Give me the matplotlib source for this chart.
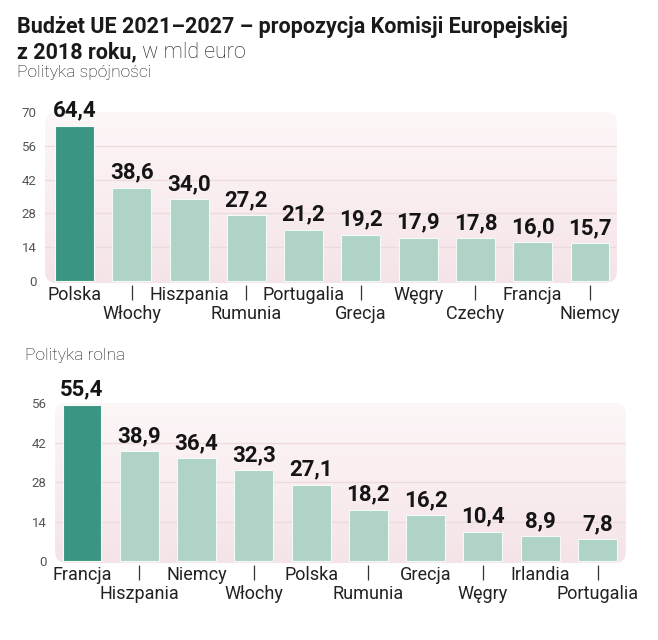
import numpy as np
import matplotlib
matplotlib.use('Agg')
import matplotlib.pyplot as plt
from matplotlib.patches import FancyBboxPatch

# ── Data ──
coh_countries = ["Polska", "Włochy", "Hiszpania", "Rumunia", "Portugalia",
                 "Grecja", "Węgry", "Czechy", "Francja", "Niemcy"]
coh_values = [64.4, 38.6, 34.0, 27.2, 21.2, 19.2, 17.9, 17.8, 16.0, 15.7]
coh_ticks = [0, 14, 28, 42, 56, 70]

agr_countries = ["Francja", "Hiszpania", "Niemcy", "Włochy", "Polska",
                 "Rumunia", "Grecja", "Węgry", "Irlandia", "Portugalia"]
agr_values = [55.4, 38.9, 36.4, 32.3, 27.1, 18.2, 16.2, 10.4, 8.9, 7.8]
agr_ticks = [0, 14, 28, 42, 56]

title1 = "Budżet UE 2021–2027 – propozycja Komisji Europejskiej"
title2 = "z 2018 roku,"
unit = " w mld euro"
sub1 = "Polityka spójności"
sub2 = "Polityka rolna"

DARK = "#3a9682"
LIGHT = "#afd3c7"
GRID = "#ecdadd"
W, H = 658, 640

VAL_FONT = ["Roboto", "DejaVu Sans"]
TXT_FONT = ["Roboto", "DejaVu Sans"]

fig = plt.figure(figsize=(W / 100, H / 100), dpi=100)
fig.patch.set_facecolor("white")


def px_axes(left, top, right, bottom):
    return fig.add_axes([left / W, 1 - bottom / H, (right - left) / W, (bottom - top) / H])


def draw_panel(ax, countries, values, ticks, xlim, ylim, wpx, hpx):
    ax.set_xlim(*xlim)
    ax.set_ylim(*ylim)
    ax.patch.set_visible(False)
    for s in ax.spines.values():
        s.set_visible(False)

    # rounded background with soft vertical gradient
    r = 12
    panel = FancyBboxPatch((0, 0), 1, 1, boxstyle=f"round,pad=0,rounding_size={r / wpx}",
                           mutation_aspect=wpx / hpx, transform=ax.transAxes,
                           facecolor="none", edgecolor="none", zorder=0)
    ax.add_patch(panel)
    grad = np.linspace(0, 1, 256).reshape(-1, 1)
    top_c = np.array([253, 247, 248]) / 255
    bot_c = np.array([245, 228, 231]) / 255
    img = top_c + (bot_c - top_c) * grad[..., None]
    im = ax.imshow(img, extent=[xlim[0], xlim[1], ylim[0], ylim[1]], aspect="auto",
                   origin="upper", zorder=0)
    im.set_clip_path(panel)
    ax.set_xlim(*xlim)
    ax.set_ylim(*ylim)

    for t in ticks[1:]:
        if t < ylim[1] - 0.5:
            ax.axhline(t, color=GRID, lw=0.9, zorder=1)

    x = np.arange(len(values))
    colors = [DARK] + [LIGHT] * (len(values) - 1)
    ax.bar(x, values, width=0.68, color=colors, edgecolor="#f4faf8", linewidth=0.8, zorder=2)

    for i, v in enumerate(values):
        ax.annotate(f"{v:.1f}".replace(".", ","), xy=(i, v), xytext=(0, 4),
                    textcoords="offset pixels", ha="center", va="bottom",
                    fontsize=16, fontweight="bold", family=VAL_FONT, color="#151515")

    for i, name in enumerate(countries):
        dy = 12 if i % 2 == 0 else 31
        ax.annotate(name, xy=(i, 0), xycoords=("data", "axes fraction"),
                    xytext=(0, -dy), textcoords="offset pixels", ha="center",
                    va="center", fontsize=13, family=TXT_FONT, color="#222222")
        if i % 2 == 1:
            ax.vlines(i, -2 / hpx, -17 / hpx, transform=ax.get_xaxis_transform(),
                      color="#333333", lw=0.9, clip_on=False)

    ax.set_xticks([])
    ax.set_yticks(ticks)
    ax.set_yticklabels([str(t) for t in ticks], family=TXT_FONT, fontsize=9.5,
                       color="#555555")
    ax.tick_params(axis="y", length=0, pad=6)


# top panel: cohesion policy
ax1 = px_axes(45, 112, 617, 283)
draw_panel(ax1, coh_countries, coh_values, coh_ticks,
           (-0.515, 9.471), (-0.83, 70), 572, 171)

# bottom panel: agricultural policy
ax2 = px_axes(55, 403, 626, 563)
draw_panel(ax2, agr_countries, agr_values, agr_ticks,
           (-0.471, 9.497), (-0.7, 56), 571, 160)

# titles
fig.text(17 / W, 1 - 33 / H, title1, fontsize=15.5, fontweight="bold",
         family=TXT_FONT, color="#1a1a1a", va="baseline")
t2 = fig.text(17 / W, 1 - 58 / H, title2, fontsize=15.5, fontweight="bold",
              family=TXT_FONT, color="#1a1a1a", va="baseline")
fig.canvas.draw()
bb = t2.get_window_extent()
fig.text(bb.x1 / W, 1 - 58 / H, unit, fontsize=15.5, fontweight="light",
         family=TXT_FONT, color="#1a1a1a", va="baseline")
fig.text(17 / W, 1 - 77 / H, sub1, fontsize=12.5, fontweight="light",
         family=TXT_FONT, color="#111111", va="baseline")
fig.text(25 / W, 1 - 360 / H, sub2, fontsize=12.5, fontweight="light",
         family=TXT_FONT, color="#111111", va="baseline")

plt.savefig("out.png", dpi=100)
